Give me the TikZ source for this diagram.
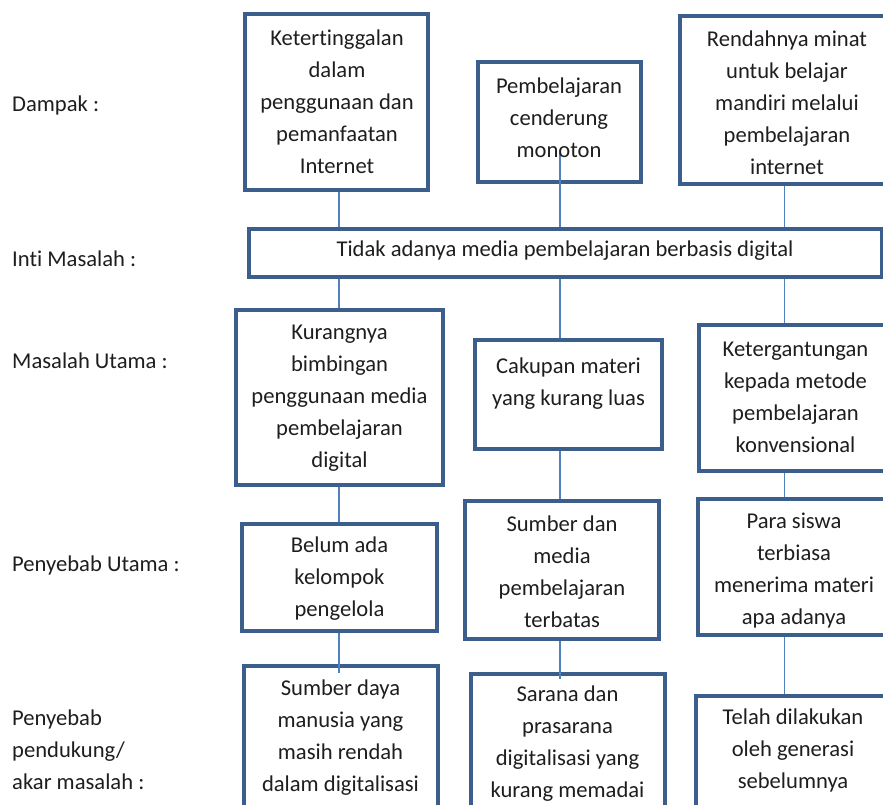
\documentclass[tikz,border=0pt]{standalone}
\usepackage{fontspec}
\setmainfont{Carlito}[Ligatures={NoCommon}]
\definecolor{boxblue}{RGB}{59,94,140}
\definecolor{lineblue}{RGB}{79,129,189}
\definecolor{txtgray}{RGB}{30,30,30}
\begin{document}
\begin{tikzpicture}[x=1pt,y=-1pt,
  box/.style={draw=boxblue, line width=4pt, inner sep=0pt},
  txt/.style={align=center, font=\fontsize{22.6}{32}\selectfont, text=txtgray, inner sep=0pt},
  lbl/.style={align=left, anchor=west, font=\fontsize{22.6}{32}\selectfont, text=txtgray, inner sep=0pt},
  conn/.style={draw=lineblue, line width=1.2pt}]
\useasboundingbox (0,0) rectangle (883,804);
\clip (0,0) rectangle (883,804);
% column coordinates
\coordinate (col1) at (339,0);
\coordinate (col2) at (560,0);
\coordinate (col3) at (784.5,0);
% boxes
\node[box, minimum width=183pt, minimum height=176pt] (b1) at (336.5,102) {};
\node[box, minimum width=163pt, minimum height=120pt] (b2) at (559.5,122) {};
\node[box, minimum width=223pt, minimum height=168pt] (b3) at (791.5,100) {};
\node[box, minimum width=633pt, minimum height=48pt] (inti) at (565.5,253) {};
\node[box, minimum width=207pt, minimum height=175pt] (m1) at (339.5,397.5) {};
\node[box, minimum width=187pt, minimum height=109pt] (m2) at (568.5,394.5) {};
\node[box, minimum width=204pt, minimum height=146pt] (m3) at (801,398) {};
\node[box, minimum width=195pt, minimum height=107pt] (p1) at (339.5,577.5) {};
\node[box, minimum width=194pt, minimum height=138pt] (p2) at (562,570) {};
\node[box, minimum width=205pt, minimum height=136pt] (p3) at (800.5,567) {};
\node[box, minimum width=194pt, minimum height=162pt] (a1) at (341,747) {};
\node[box, minimum width=194pt, minimum height=154pt] (a2) at (568,751) {};
\node[box, minimum width=207pt, minimum height=132pt] (a3) at (799.5,762) {};
% connectors
\draw[conn] (b1.south -| col1) -- (inti.north -| col1);
\draw[conn] ([yshift=31pt]b2.south -| col2) -- (inti.north -| col2);
\draw[conn] (b3.south -| col3) -- (inti.north -| col3);
\draw[conn] (inti.south -| col1) -- (m1.north -| col1);
\draw[conn] (inti.south -| col2) -- (m2.north -| col2);
\draw[conn] (inti.south -| col3) -- (m3.north -| col3);
\draw[conn] (m1.south -| col1) -- (p1.north -| col1);
\draw[conn] (m2.south -| col2) -- (p2.north -| col2);
\draw[conn] (m3.south -| col3) -- (p3.north -| col3);
\draw[conn] (p1.south -| col1) -- ([yshift=-9pt]a1.north -| col1);
\draw[conn] (p2.south -| col2) -- ([yshift=-7pt]a2.north -| col2);
\draw[conn] (p3.south -| col3) -- (a3.north -| col3);
% texts
\node[txt] (tb1) at (337,102) {Ketertinggalan\\dalam\\penggunaan dan\\pemanfaatan\\Internet};
\node[txt] (tb2) at (559,118) {Pembelajaran\\cenderung\\monoton};
\node[txt] (tb3) at (787,103) {Rendahnya minat\\untuk belajar\\mandiri melalui\\pembelajaran\\internet};
\node[txt] (tinti) at (565,251) {Tidak adanya media pembelajaran berbasis digital};
\node[txt] (tm1) at (339.5,398) {Kurangnya\\bimbingan\\penggunaan media\\pembelajaran\\digital};
\node[txt] (tm2) at (568.5,384) {Cakupan materi\\yang kurang luas};
\node[txt] (tm3) at (795.5,397) {Ketergantungan\\kepada metode\\pembelajaran\\konvensional};
\node[txt] (tp1) at (339.5,579) {Belum ada\\kelompok\\pengelola};
\node[txt] (tp2) at (562,572) {Sumber dan\\media\\pembelajaran\\terbatas};
\node[txt] (tp3) at (794,571) {Para siswa\\terbiasa\\menerima materi\\apa adanya};
\node[txt] (ta1) at (340.5,738) {Sumber daya\\manusia yang\\masih rendah\\dalam digitalisasi};
\node[txt] (ta2) at (567.5,744) {Sarana dan\\prasarana\\digitalisasi yang\\kurang memadai};
\node[txt] (ta3) at (793,750) {Telah dilakukan\\oleh generasi\\sebelumnya};
% row labels
\node[lbl] (l1) at (12,105) {Dampak :};
\node[lbl] (l2) at (12,259) {Inti Masalah :};
\node[lbl] (l3) at (12,361) {Masalah Utama :};
\node[lbl] (l4) at (12,565) {Penyebab Utama :};
\node[lbl] (l5) at (12,749.5) {Penyebab\\pendukung/\\akar masalah :};
\end{tikzpicture}
\end{document}
